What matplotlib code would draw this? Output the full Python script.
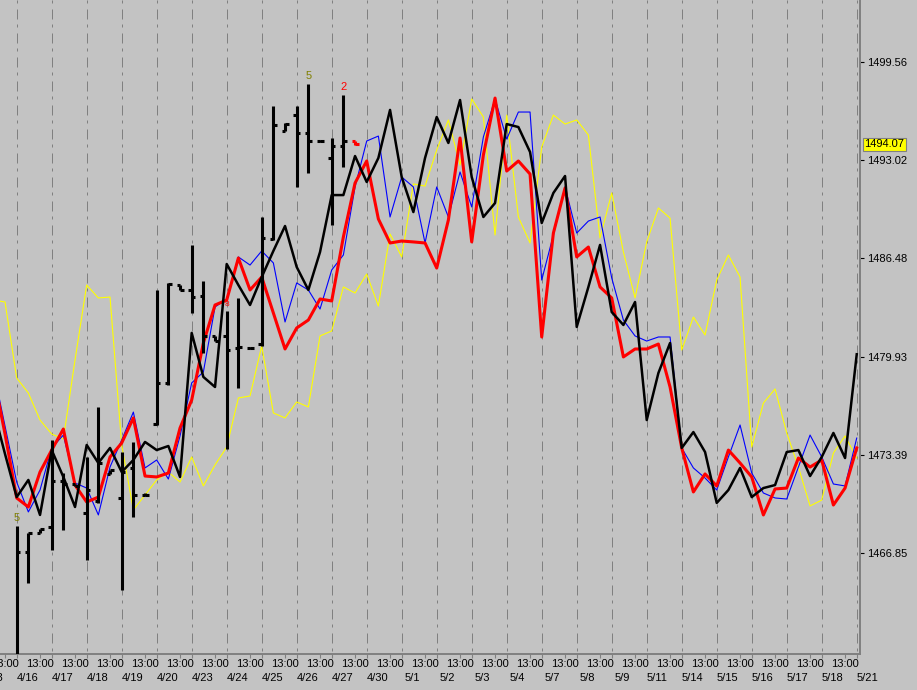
import numpy as np
import matplotlib
matplotlib.use("Agg")
import matplotlib.pyplot as plt

plt.rcParams['font.family'] = ['Liberation Sans', 'DejaVu Sans']

# bar index: 3 bars per session, index -1 .. 73
x = np.arange(-1, 74)

red = [1478.72, 1474.79, 1470.53, 1469.93, 1472.26, 1473.72, 1475.12, 1471.39, 1470.26, 1470.59,
       1473.26, 1474.19, 1475.86, 1471.99, 1471.93, 1472.19, 1475.19, 1477.05, 1480.85, 1483.38,
       1483.71, 1486.51, 1484.38, 1485.24, 1482.85, 1480.45, 1481.85, 1482.38, 1483.78, 1483.65,
       1487.91, 1491.50, 1492.97, 1489.11, 1487.51, 1487.64, 1487.58, 1487.51, 1485.84, 1489.04,
       1494.50, 1487.58, 1493.37, 1497.16, 1492.30, 1492.97, 1492.10, 1481.25, 1488.17, 1491.17,
       1486.58, 1487.24, 1484.58, 1483.85, 1479.92, 1480.45, 1480.45, 1480.78, 1477.92, 1473.86,
       1470.93, 1472.13, 1471.33, 1473.72, 1472.86, 1471.93, 1469.40, 1471.13, 1471.19, 1473.19,
       1472.59, 1473.06, 1470.06, 1471.19, 1473.86]

blue = [1479.05, 1475.32, 1471.59, 1469.60, 1471.06, 1473.86, 1474.72, 1471.53, 1471.19, 1469.40,
        1472.59, 1474.39, 1476.25, 1472.53, 1473.06, 1471.79, 1474.66, 1478.19, 1478.92, 1483.25,
        1483.78, 1486.58, 1486.04, 1486.98, 1486.18, 1482.25, 1484.85, 1484.38, 1483.11, 1485.71,
        1486.71, 1491.24, 1494.30, 1494.63, 1489.24, 1491.90, 1491.24, 1487.51, 1491.24, 1489.24,
        1492.24, 1489.91, 1494.57, 1497.10, 1494.43, 1496.23, 1496.23, 1485.04, 1488.04, 1491.24,
        1488.17, 1488.97, 1489.24, 1485.18, 1482.38, 1481.32, 1480.98, 1481.25, 1481.25, 1473.86,
        1472.53, 1471.86, 1471.06, 1473.26, 1475.39, 1472.19, 1470.86, 1470.53, 1470.46, 1472.59,
        1474.72, 1473.26, 1471.46, 1471.33, 1474.52]

black = [1476.45, 1473.46, 1470.59, 1471.73, 1469.40, 1473.72, 1471.93, 1469.93, 1474.06, 1472.86,
         1473.86, 1472.26, 1473.06, 1474.26, 1473.72, 1473.99, 1471.93, 1481.52, 1478.59, 1477.92,
         1486.11, 1484.71, 1483.38, 1485.24, 1486.98, 1488.64, 1485.91, 1484.38, 1486.91, 1490.70,
         1490.70, 1493.30, 1491.57, 1493.17, 1496.37, 1491.90, 1489.57, 1493.17, 1495.90, 1494.17,
         1497.03, 1491.90, 1489.24, 1490.17, 1495.43, 1495.23, 1493.57, 1488.84, 1490.84, 1491.97,
         1481.92, 1484.58, 1487.38, 1482.91, 1482.05, 1483.58, 1475.72, 1478.85, 1480.85, 1473.86,
         1474.92, 1473.59, 1470.20, 1471.06, 1472.53, 1470.59, 1471.19, 1471.39, 1473.59, 1473.72,
         1471.99, 1473.26, 1474.86, 1473.19, 1480.10]

yellow = [1483.71, 1483.58, 1478.52, 1477.52, 1475.72, 1474.79, 1474.46, 1479.72, 1484.71, 1483.85,
          1483.91, 1474.06, 1469.73, 1470.73, 1471.73, 1472.26, 1471.59, 1473.26, 1471.33, 1472.73,
          1473.92, 1477.19, 1477.32, 1480.65, 1476.19, 1475.86, 1476.92, 1476.59, 1481.32, 1481.65,
          1484.58, 1484.18, 1485.44, 1483.31, 1488.11, 1486.58, 1491.44, 1491.30, 1493.70, 1495.70,
          1492.70, 1497.10, 1495.90, 1488.04, 1496.03, 1489.24, 1487.51, 1493.90, 1496.03, 1495.43,
          1495.70, 1494.70, 1487.84, 1490.84, 1486.91, 1483.85, 1487.58, 1489.84, 1489.17, 1480.38,
          1482.58, 1481.38, 1485.04, 1486.71, 1485.24, 1473.92, 1476.85, 1477.79, 1474.86, 1472.59,
          1470.00, 1470.39, 1473.52, 1474.66, 1473.19]

# price bars, index 1 .. 30
bar_x = np.arange(1, 31)
bar_high = [1468.66, 1468.20, 1468.46, 1474.39, 1472.19, 1471.46, 1473.26, 1476.59, 1472.39, 1473.59,
            1474.26, 1470.86, 1484.38, 1484.84, 1484.71, 1487.38, 1484.98, 1481.32, 1482.98, 1483.85,
            1480.58, 1489.24, 1496.63, 1495.50, 1496.63, 1498.10, 1494.37, 1494.50, 1497.36, 1494.30]
bar_low = [1459.41, 1464.87, 1468.20, 1467.07, 1468.40, 1471.33, 1466.40, 1470.20, 1472.13, 1464.40,
           1469.26, 1470.66, 1475.39, 1478.05, 1484.38, 1482.85, 1480.18, 1480.98, 1473.79, 1477.85,
           1480.45, 1480.65, 1487.71, 1494.97, 1491.24, 1492.17, 1494.23, 1488.71, 1492.57, 1494.04]
bar_open = [1459.41, 1466.93, 1468.20, 1468.60, 1471.66, 1471.46, 1469.53, 1470.33, 1472.13, 1470.53,
            1472.53, 1470.73, 1475.46, 1478.19, 1484.71, 1484.38, 1483.98, 1481.32, 1481.32, 1480.52,
            1480.52, 1480.78, 1487.77, 1494.97, 1496.03, 1494.83, 1494.30, 1493.17, 1493.97, 1494.30]
bar_close = [1466.93, 1468.20, 1468.46, 1471.66, 1471.46, 1471.33, 1471.06, 1472.86, 1472.39, 1472.26,
             1470.73, 1470.73, 1478.19, 1484.78, 1484.38, 1483.91, 1481.32, 1480.98, 1480.38, 1480.58,
             1480.52, 1487.84, 1495.37, 1495.43, 1494.83, 1494.30, 1494.30, 1493.97, 1494.30, 1494.07]
bar_colors = ['black'] * 29 + ['red']

# pattern marks above bars: (bar index, text, colour, size)
marks = [(1, '5', '#808000', 8), (26, '5', '#808000', 8), (29, '2', 'red', 8), (19, '8', 'red', 6)]

price_ticks = [1466.85, 1473.39, 1479.93, 1486.48, 1493.02, 1499.56]
last_price = 1494.07

time_pos = np.arange(0, 73, 3)
date_labels = ['4/13', '4/16', '4/17', '4/18', '4/19', '4/20', '4/23', '4/24', '4/25', '4/26',
               '4/27', '4/30', '5/1', '5/2', '5/3', '5/4', '5/7', '5/8', '5/9', '5/11',
               '5/14', '5/15', '5/16', '5/17', '5/18', '5/21']
date_pos = np.arange(len(date_labels)) * 3 - 1.1
grid_pos = np.arange(1, 74, 3)

bg = '#c3c3c3'
gray = '#808080'

fig = plt.figure(figsize=(9.17, 6.90), dpi=100, facecolor=bg)
ax = fig.add_axes([0, 36 / 690, 860 / 917, 654 / 690], facecolor=bg)

# session grid
ax.vlines(grid_pos, 1455, 1510, colors=gray, lw=0.72, linestyles=[(0, (10, 6, 3, 5))], zorder=1)

# bars
for bx, h, l, o, c, col in zip(bar_x, bar_high, bar_low, bar_open, bar_close, bar_colors):
    ax.vlines(bx, l, h, colors=col, lw=2.2, zorder=5)
    ax.hlines(o, bx - 0.3, bx, colors=col, lw=2.2, zorder=5)
    ax.hlines(c, bx, bx + 0.3, colors=col, lw=2.2, zorder=5)

ax.plot(x, yellow, color='#ffff00', lw=0.8, zorder=2)
ax.plot(x, blue, color='#0000ff', lw=0.8, zorder=3)
ax.plot(x, red, color='#ff0000', lw=2.2, zorder=4)
ax.plot(x, black, color='black', lw=1.8, zorder=4)

for bi, txt, col, fs in marks:
    ax.annotate(txt, xy=(bi, bar_high[bi - 1]), xytext=(0, 2), textcoords='offset points',
                ha='center', va='bottom', color=col, fontsize=fs, zorder=6)

ax.set_xlim(-0.43, 73.28)
ax.set_ylim(1460.14, 1503.69)

for s in ['top', 'left']:
    ax.spines[s].set_visible(False)
for s in ['right', 'bottom']:
    ax.spines[s].set_color(gray)
    ax.spines[s].set_linewidth(1.4)

ax.yaxis.tick_right()
ax.set_yticks(price_ticks)
ax.set_yticklabels([f'{p:.2f}' for p in price_ticks])
ax.tick_params(axis='y', length=3, width=0.8, color='black', pad=2, labelsize=8, labelcolor='black')

ax.set_xticks(time_pos)
ax.set_xticks(grid_pos, minor=True)
ax.tick_params(axis='x', which='both', length=3, width=0.8, color=gray, labelbottom=False)

xt = ax.get_xaxis_transform()
for p in time_pos:
    ax.text(p, -10 / 654, '13:00', transform=xt, ha='center', va='center', fontsize=8)
for p, lab in zip(date_pos, date_labels):
    ax.text(p, -24 / 654, lab, transform=xt, ha='center', va='center', fontsize=8)

ax.annotate(f'{last_price:.2f}', xy=(1, last_price), xycoords=('axes fraction', 'data'),
            xytext=(3, 0), textcoords='offset points', ha='left', va='center', fontsize=8,
            bbox=dict(boxstyle='square,pad=0.15', fc='#ffff00', ec=gray, lw=0.8),
            annotation_clip=False, zorder=10)

fig.savefig('out.png', dpi=100, facecolor=bg)
